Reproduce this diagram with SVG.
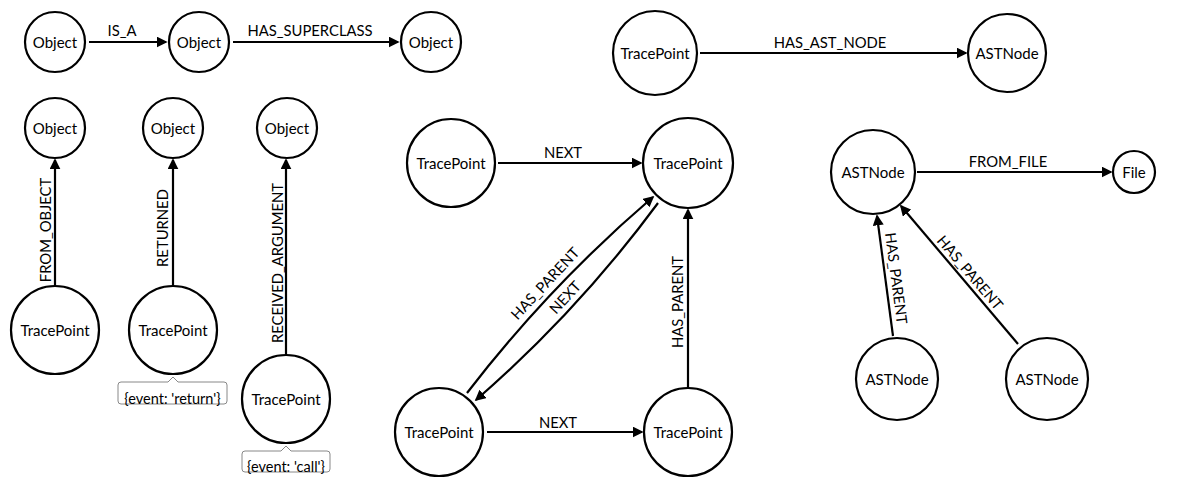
<svg xmlns="http://www.w3.org/2000/svg" width="1181" height="491" viewBox="0 0 1181 491">
<style>
.node circle{fill:#fff;stroke:#000;stroke-width:2.2}
.node text{font-family:Lato,"Open Sans","Liberation Sans",sans-serif;font-size:15px;fill:#000;text-anchor:middle;dominant-baseline:central}
.edges path{fill:none;stroke:#000;stroke-width:2.2;marker-end:url(#arr)}
.elabel{font-family:Lato,"Open Sans","Liberation Sans",sans-serif;font-size:14.8px;fill:#000;text-anchor:middle}
.prop path{fill:#fff;stroke:#888;stroke-width:1}
.prop text{font-family:Lato,"Open Sans","Liberation Sans",sans-serif;font-size:14.5px;fill:#000;text-anchor:middle}
</style>
<defs>
<marker id="arr" viewBox="0 0 10 10" refX="8.5" refY="5" markerWidth="11" markerHeight="11" markerUnits="userSpaceOnUse" orient="auto">
<path d="M0,0 L10,5 L0,10 z" fill="#000"/>
</marker>
</defs>
<rect width="1181" height="491" fill="#fff"/>
<g class="edges" id="edges">
<path d="M89,42 H166"/>
<path d="M233,42 H398"/>
<path d="M55,285 V160"/>
<path d="M173,285 V160"/>
<path d="M286,354 V160"/>
<path d="M498,163 H641"/>
<path d="M487,432 H642"/>
<path d="M688,387 V210"/>
<path d="M467,393 Q549.8,285.4 653,197"/>
<path d="M658,203 Q578.2,311.1 476,400"/>
<path d="M700,53 H966"/>
<path d="M917,172 H1111"/>
<path d="M893,336 L877,216"/>
<path d="M1018,344 L901,206"/>
<text class="elabel" x="122" y="36">IS_A</text>
<text class="elabel" x="310" y="36">HAS_SUPERCLASS</text>
<text class="elabel" transform="translate(51,230) rotate(-90)">FROM_OBJECT</text>
<text class="elabel" transform="translate(168,228) rotate(-90)">RETURNED</text>
<text class="elabel" transform="translate(283,263) rotate(-90)">RECEIVED_ARGUMENT</text>
<text class="elabel" x="563" y="158">NEXT</text>
<text class="elabel" x="558" y="428">NEXT</text>
<text class="elabel" transform="translate(683,302) rotate(-90)">HAS_PARENT</text>
<text class="elabel" transform="translate(549,287) rotate(-47)">HAS_PARENT</text>
<text class="elabel" transform="translate(569,301) rotate(-47)">NEXT</text>
<text class="elabel" x="830" y="48">HAS_AST_NODE</text>
<text class="elabel" x="1008" y="167">FROM_FILE</text>
<text class="elabel" transform="translate(891,279) rotate(82.5)">HAS_PARENT</text>
<text class="elabel" transform="translate(966,276) rotate(49.5)">HAS_PARENT</text>
</g>
<g class="node" id="n1"><circle cx="55" cy="42" r="30"/><text x="55" y="42">Object</text></g>
<g class="node" id="n2"><circle cx="199" cy="42" r="30"/><text x="199" y="42">Object</text></g>
<g class="node" id="n3"><circle cx="431" cy="42" r="30"/><text x="431" y="42">Object</text></g>
<g class="node" id="n4"><circle cx="55" cy="128" r="30"/><text x="55" y="128">Object</text></g>
<g class="node" id="n5"><circle cx="173" cy="128" r="30"/><text x="173" y="128">Object</text></g>
<g class="node" id="n6"><circle cx="287" cy="128" r="30"/><text x="287" y="128">Object</text></g>
<g class="node" id="n7"><circle cx="55" cy="330" r="44"/><text x="55" y="330">TracePoint</text></g>
<g class="node" id="n8"><circle cx="173" cy="330" r="44"/><text x="173" y="330">TracePoint</text>
<g class="prop"><path d="M121,382 H168 L173,377 L178,382 H224 Q227,382 227,385 V401 Q227,404 224,404 H121 Q118,404 118,401 V385 Q118,382 121,382 Z"/><text x="172.5" y="398">{event: 'return'}</text></g></g>
<g class="node" id="n9"><circle cx="286" cy="399" r="44"/><text x="286" y="399">TracePoint</text>
<g class="prop"><path d="M245,451 H281 L286,446 L291,451 H327 Q330,451 330,454 V469 Q330,472 327,472 H245 Q242,472 242,469 V454 Q242,451 245,451 Z"/><text x="286" y="466.5">{event: 'call'}</text></g></g>
<g class="node" id="n10"><circle cx="451" cy="163" r="44"/><text x="451" y="163">TracePoint</text></g>
<g class="node" id="n11"><circle cx="688" cy="163" r="45"/><text x="688" y="163">TracePoint</text></g>
<g class="node" id="n12"><circle cx="439" cy="432" r="44"/><text x="439" y="432">TracePoint</text></g>
<g class="node" id="n13"><circle cx="688" cy="432" r="44"/><text x="688" y="432">TracePoint</text></g>
<g class="node" id="n14"><circle cx="655" cy="53" r="42"/><text x="655" y="53">TracePoint</text></g>
<g class="node" id="n15"><circle cx="1007" cy="53" r="39"/><text x="1007" y="53">ASTNode</text></g>
<g class="node" id="n16"><circle cx="873" cy="172" r="42"/><text x="873" y="172">ASTNode</text></g>
<g class="node" id="n17"><circle cx="1134" cy="172" r="21"/><text x="1134" y="172">File</text></g>
<g class="node" id="n18"><circle cx="897" cy="379" r="41"/><text x="897" y="379">ASTNode</text></g>
<g class="node" id="n19"><circle cx="1047" cy="379" r="41"/><text x="1047" y="379">ASTNode</text></g>
</svg>
